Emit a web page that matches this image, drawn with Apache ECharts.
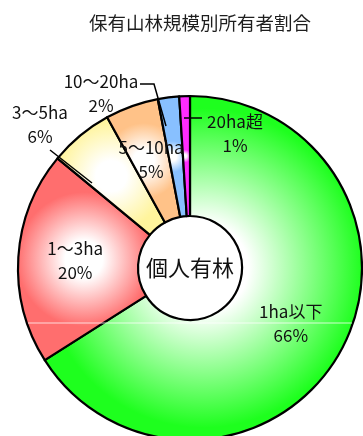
<!DOCTYPE html>
<html>
<head>
<meta charset="utf-8">
<script src="https://cdn.jsdelivr.net/npm/echarts@6/dist/echarts.min.js"></script>
<style>
  html, body { margin: 0; padding: 0; background: #ffffff; }
  #chart { width: 363px; height: 436px; }
</style>
</head>
<body>
<div id="chart"></div>
<script>
// Ownership share by forest holding size (individual owners)
const categories = ['1ha以下', '1〜3ha', '3〜5ha', '5〜10ha', '10〜20ha', '20ha超'];
const shares = [66, 20, 6, 5, 2, 1];
const sliceColors = ['#1eff1e', '#ff6e6e', '#fff49c', '#ffc288', '#88c0ff', '#ff2cff'];
const centerText = '個人有林';
const chartTitle = '保有山林規模別所有者割合';

const CX = 190, CY = 268, R_IN = 52, R_OUT = 172;
const FONT = '"Noto Sans CJK JP", "Noto Sans", sans-serif';

// Each wedge fades to white towards its own middle
function wedgeFill(color) {
  return {
    type: 'radial', x: 0.5, y: 0.5, r: 0.5,
    colorStops: [
      { offset: 0, color: '#ffffff' },
      { offset: 0.28, color: '#ffffff' },
      { offset: 1, color: color }
    ]
  };
}

// Small wedges get their labels set outside the ring
const outsideLabelAt = {
  2: [40, 125],
  4: [101, 94],
  5: [235, 134]
};

const chart = echarts.init(document.getElementById('chart'), null, { renderer: 'canvas' });

chart.setOption({
  animation: false,
  backgroundColor: '#ffffff',
  title: {
    text: chartTitle,
    left: 89,
    top: 14,
    padding: 0,
    textStyle: { fontFamily: FONT, fontSize: 18.5, fontWeight: 'normal', color: '#1e1e1e' }
  },
  series: [{
    type: 'pie',
    center: [CX, CY],
    radius: [R_IN, R_OUT],
    startAngle: 90,
    clockwise: true,
    avoidLabelOverlap: false,
    itemStyle: { borderColor: '#000000', borderWidth: 2.2 },
    label: {
      show: true,
      position: 'inside',
      formatter: '{b}\n{c}%',
      fontFamily: FONT,
      fontSize: 17,
      lineHeight: 24,
      color: '#111111',
      align: 'center'
    },
    labelLine: { show: false },
    labelLayout: function (params) {
      const p = outsideLabelAt[params.dataIndex];
      if (!p) return {};
      return { x: p[0], y: p[1], align: 'center', verticalAlign: 'middle' };
    },
    emphasis: { disabled: true },
    data: categories.map(function (name, i) {
      return {
        name: name,
        value: shares[i],
        itemStyle: { color: wedgeFill(sliceColors[i]) }
      };
    })
  }],
  graphic: [
    // leader lines for the labels placed outside
    { type: 'polyline', z: 10, shape: { points: [[140, 84], [154, 84], [166, 126]] },
      style: { stroke: '#000000', lineWidth: 1.5, fill: null } },
    { type: 'polyline', z: 10, shape: { points: [[50, 150], [92, 183]] },
      style: { stroke: '#000000', lineWidth: 1.5, fill: null } },
    { type: 'polyline', z: 10, shape: { points: [[184, 118], [202, 118]] },
      style: { stroke: '#000000', lineWidth: 1.5, fill: null } },
    // thin light rule across the ring
    { type: 'line', z: 9, shape: { x1: 28, y1: 323, x2: 352, y2: 323 },
      style: { stroke: 'rgba(255,255,255,0.75)', lineWidth: 1 } },
    // caption in the hole of the ring
    { type: 'text', z: 10, x: CX, y: CY,
      style: { text: centerText, font: '22px ' + FONT, fill: '#111111',
               textAlign: 'center', textVerticalAlign: 'middle' } }
  ]
});
</script>
</body>
</html>
